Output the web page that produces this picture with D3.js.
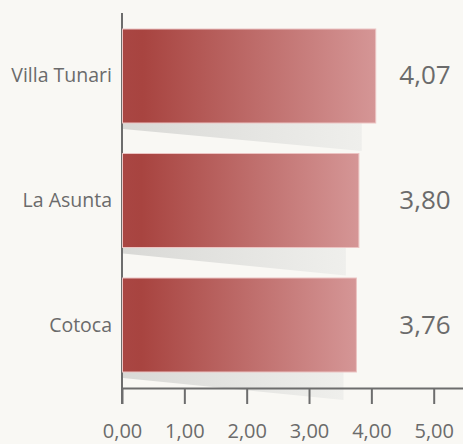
<!DOCTYPE html>
<html>
<head>
<meta charset="utf-8">
<script src="https://cdn.jsdelivr.net/npm/d3@7"></script>
<style>
  body { margin: 0; background: #f9f8f4; }
  svg { display: block; }
</style>
</head>
<body>
<div id="chart"></div>
<script>
var categories = ["Villa Tunari", "La Asunta", "Cotoca"];
var values = [4.07, 3.80, 3.76];
var tickValues = [0, 1, 2, 3, 4, 5];

var svgWidth = 463;
var svgHeight = 444;

var svg = d3.select("#chart")
  .append("svg")
  .attr("width", svgWidth)
  .attr("height", svgHeight);

svg.append("rect")
  .attr("width", svgWidth)
  .attr("height", svgHeight)
  .attr("fill", "#f9f8f4");

var x = d3.scaleLinear()
  .domain([0, 5.47])
  .range([122, 463]);

var y = d3.scaleBand()
  .domain(categories)
  .range([29, 372])
  .paddingInner(0.245)
  .paddingOuter(0);

var fmt = function(v) { return d3.format(".2f")(v).replace(".", ","); };

var defs = svg.append("defs");
var barGrad = defs.append("linearGradient")
  .attr("id", "barGrad")
  .attr("x1", "0%").attr("x2", "100%").attr("y1", "0%").attr("y2", "0%");
barGrad.append("stop").attr("offset", "0%").attr("stop-color", "#a94643");
barGrad.append("stop").attr("offset", "8%").attr("stop-color", "#a84440");
barGrad.append("stop").attr("offset", "100%").attr("stop-color", "#d59696");

var shadowGrad = defs.append("linearGradient")
  .attr("id", "shadowGrad")
  .attr("x1", "0%").attr("x2", "100%").attr("y1", "0%").attr("y2", "0%");
shadowGrad.append("stop").attr("offset", "0%").attr("stop-color", "#d9d9d6");
shadowGrad.append("stop").attr("offset", "100%").attr("stop-color", "#efefec");

var data = categories.map(function(c, i) { return { name: c, value: values[i] }; });

// shadows under bars
svg.selectAll(".shadow")
  .data(data)
  .enter()
  .append("path")
  .attr("class", "shadow")
  .attr("fill", "url(#shadowGrad)")
  .attr("d", function(d) {
    var x0 = x(0) + 1;
    var x1 = x(0) + (x(d.value) - x(0)) * 0.945;
    var yb = y(d.name) + y.bandwidth();
    return "M" + x0 + "," + yb + "L" + x1 + "," + yb + "L" + x1 + "," + (yb + 28) + "L" + x0 + "," + (yb + 6) + "Z";
  });

// axes
var axisColor = "#6d6d6d";
svg.append("line")
  .attr("x1", x(0)).attr("x2", x(0))
  .attr("y1", 13).attr("y2", 404)
  .attr("stroke", axisColor)
  .attr("stroke-width", 2);

var xAxis = svg.append("g")
  .attr("transform", "translate(0, 388)")
  .call(d3.axisBottom(x).tickValues(tickValues).tickFormat(fmt).tickSize(16).tickSizeOuter(0).tickPadding(20));

xAxis.select(".domain").attr("stroke", axisColor).attr("stroke-width", 2);
xAxis.selectAll(".tick line").attr("stroke", axisColor).attr("stroke-width", 2);
xAxis.selectAll(".tick text")
  .attr("fill", "#6b6b6b")
  .style("font-family", "'Open Sans', sans-serif")
  .style("font-size", "20px");

// bars
svg.selectAll(".bar")
  .data(data)
  .enter()
  .append("rect")
  .attr("class", "bar")
  .attr("x", x(0) + 0.5)
  .attr("y", function(d) { return y(d.name); })
  .attr("width", function(d) { return x(d.value) - x(0) - 0.5; })
  .attr("height", y.bandwidth())
  .attr("fill", "url(#barGrad)")
  .attr("stroke", "#ecc4c3")
  .attr("stroke-width", 1);

// category labels
svg.selectAll(".cat")
  .data(data)
  .enter()
  .append("text")
  .attr("class", "cat")
  .attr("x", 112)
  .attr("y", function(d) { return y(d.name) + y.bandwidth() / 2 + 6.5; })
  .attr("text-anchor", "end")
  .attr("fill", "#6b6b6b")
  .style("font-family", "'Open Sans', sans-serif")
  .style("font-size", "19.5px")
  .text(function(d) { return d.name; });

// value labels
svg.selectAll(".val")
  .data(data)
  .enter()
  .append("text")
  .attr("class", "val")
  .attr("x", 425)
  .attr("y", function(d) { return y(d.name) + y.bandwidth() / 2 + 8.5; })
  .attr("text-anchor", "middle")
  .attr("fill", "#6b6b6b")
  .style("font-family", "'Open Sans', sans-serif")
  .style("font-size", "26px")
  .text(function(d) { return fmt(d.value); });
</script>
</body>
</html>
